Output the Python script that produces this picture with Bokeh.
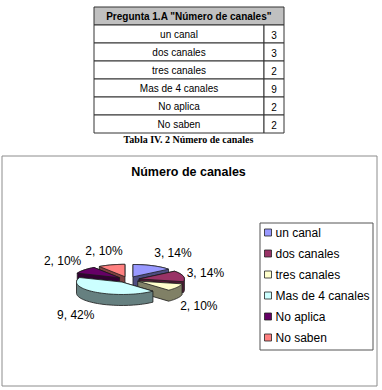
import numpy as np
from bokeh.plotting import figure
from bokeh.models import Range1d, ColumnDataSource
from bokeh.core.properties import value
from bokeh.embed import file_html
from bokeh.resources import INLINE

# ---------------- data ----------------
categories = ["un canal", "dos canales", "tres canales", "Mas de 4 canales", "No aplica", "No saben"]
counts = [3, 3, 2, 9, 2, 2]
percents = [14, 14, 10, 42, 10, 10]
table_title = 'Pregunta 1.A "Número de canales"'
caption = "Tabla IV. 2 Número de canales"
chart_title = "Número de canales"
top_colors = ["#9999FF", "#993366", "#FFFFCC", "#CCFFFF", "#660066", "#FF8080"]
side_colors = ["#4D4D80", "#4D1A33", "#808066", "#668080", "#330033", "#804040"]

SANS = value("Liberation Sans")
SERIF = value("Liberation Serif")

W, H = 382, 390
p = figure(width=W, height=H, x_range=Range1d(0, W), y_range=Range1d(H, 0),
           output_backend="svg", toolbar_location=None, min_border=0,
           x_axis_location=None, y_axis_location=None)
p.grid.visible = False
p.outline_line_color = None
p.background_fill_color = "white"
p.border_fill_color = "white"

# ---------------- table ----------------
tx0, tx1, tdiv = 93.5, 283.5, 263.5
ty0, rh = 6.5, 18
n = len(categories)
p.quad(left=[tx0], right=[tx1], top=[ty0], bottom=[ty0 + rh],
       fill_color="#C0C0C0", line_color="#333333", line_width=1)
row_top = [ty0 + rh * (i + 1) for i in range(n)]
row_bot = [t + rh for t in row_top]
p.quad(left=[tx0] * n, right=[tdiv] * n, top=row_top, bottom=row_bot,
       fill_color="white", line_color="#333333", line_width=1)
p.quad(left=[tdiv] * n, right=[tx1] * n, top=row_top, bottom=row_bot,
       fill_color="white", line_color="#333333", line_width=1)
p.text(x=[(tx0 + tx1) / 2], y=[ty0 + rh / 2 + 0.5], text=[table_title],
       text_font=SANS, text_font_style="bold", text_font_size="10px",
       text_align="center", text_baseline="middle", text_color="black")
row_mid = [t + rh / 2 + 0.5 for t in row_top]
p.text(x=[(tx0 + tdiv) / 2] * n, y=row_mid, text=categories,
       text_font=SANS, text_font_size="10px", text_align="center",
       text_baseline="middle", text_color="black")
p.text(x=[(tdiv + tx1) / 2] * n, y=row_mid, text=[str(c) for c in counts],
       text_font=SANS, text_font_size="10px", text_align="center",
       text_baseline="middle", text_color="black")
p.text(x=[188], y=[138.5], text=[caption], text_font=SERIF,
       text_font_style="bold", text_font_size="10px", text_align="center",
       text_baseline="middle", text_color="black")

# ---------------- chart box ----------------
p.quad(left=[1.5], right=[376.5], top=[155.5], bottom=[385.5],
       fill_color=None, line_color="#8C8C8C", line_width=1)
p.text(x=[188], y=[171], text=[chart_title], text_font=SANS,
       text_font_style="bold", text_font_size="12.5px", text_align="center",
       text_baseline="middle", text_color="black")

# ---------------- 3D pie ----------------
cx, cy, rx, ry = 127.7, 279.1, 45.5, 12.4
k = ry / rx
explode = 11.0
depth = 11.0

total = float(sum(counts))
fr = np.array(counts) / total
ends = np.cumsum(fr) * 2 * np.pi
starts = ends - fr * 2 * np.pi
mids = (starts + ends) / 2


def hull(pts):
    pts = sorted(set(pts))
    if len(pts) < 3:
        return pts

    def cross(o, a, b):
        return (a[0] - o[0]) * (b[1] - o[1]) - (a[1] - o[1]) * (b[0] - o[0])
    lower, upper = [], []
    for q in pts:
        while len(lower) >= 2 and cross(lower[-2], lower[-1], q) <= 0:
            lower.pop()
        lower.append(q)
    for q in reversed(pts):
        while len(upper) >= 2 and cross(upper[-2], upper[-1], q) <= 0:
            upper.pop()
        upper.append(q)
    return lower[:-1] + upper[:-1]


tops_x, tops_y, sides_x, sides_y = [], [], [], []
for i in range(n):
    ox = cx + explode * np.sin(mids[i])
    oy = cy - explode * k * np.cos(mids[i])
    th = np.linspace(starts[i], ends[i], 50)
    ax = ox + rx * np.sin(th)
    ay = oy - ry * np.cos(th)
    px = [ox] + list(ax)
    py = [oy] + list(ay)
    tops_x.append(px)
    tops_y.append(py)
    pts = [(round(a, 3), round(b, 3)) for a, b in zip(px, py)] + \
          [(round(a, 3), round(b + depth, 3)) for a, b in zip(px, py)]
    hh = hull(pts)
    sides_x.append([q[0] for q in hh])
    sides_y.append([q[1] for q in hh])

order = sorted(range(n), key=lambda i: -np.cos(mids[i]))
for i in order:
    p.patch(sides_x[i], sides_y[i], fill_color=side_colors[i],
            line_color="#1A1A1A", line_width=0.8)
    p.patch(tops_x[i], tops_y[i], fill_color=top_colors[i],
            line_color="#1A1A1A", line_width=0.8)

# data labels
cw = {"%": 0.889, ",": 0.278, " ": 0.278}
fs = 12.0


def tw(s):
    return sum(cw.get(ch, 0.556) for ch in s) * fs


rxl, ryl = 60.0, 30.0
labels = [f"{c}, {pc}%" for c, pc in zip(counts, percents)]
boxes = []
lx, ly = [], []
for i in range(n):
    s, c = np.sin(mids[i]), np.cos(mids[i])
    axp = cx + rxl * s
    ayp = cy - ryl * c + (depth if c < 0 else 0)
    w = tw(labels[i])
    left = axp if s >= 0 else axp - w
    for (bl, br, bt, bb) in boxes:
        if left < br and left + w > bl and ayp - 7 < bb and ayp + 7 > bt:
            if left + w / 2 > (bl + br) / 2:
                left = br + 4
            else:
                left = bl - 4 - w
    boxes.append((left, left + w, ayp - 7, ayp + 7))
    lx.append(left)
    ly.append(ayp)
p.text(x=lx, y=ly, text=labels, text_font=SANS, text_font_size="12px",
       text_align="left", text_baseline="middle", text_color="black")

# ---------------- legend ----------------
p.quad(left=[259.5], right=[372.5], top=[222.5], bottom=[349.5],
       fill_color="white", line_color="#555555", line_width=1)
leg_y = [232 + 21 * i for i in range(n)]
p.rect(x=[267.5] * n, y=leg_y, width=7, height=7, fill_color=top_colors,
       line_color="#222222", line_width=0.8)
p.text(x=[275] * n, y=[v + 0.5 for v in leg_y], text=categories, text_font=SANS,
       text_font_size="12px", text_align="left", text_baseline="middle",
       text_color="black")

open("out.html", "w").write(file_html(p, INLINE))
